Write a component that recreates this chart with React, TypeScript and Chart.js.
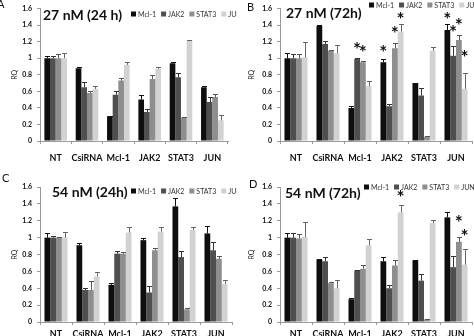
import React, { useEffect, useRef } from "react";
import { Chart, registerables } from "chart.js";
Chart.register(...registerables);

// ---------- data ----------
const categories = ["NT", "CsiRNA", "Mcl-1", "JAK2", "STAT3", "JUN"];
const seriesNames = ["Mcl-1", "JAK2", "STAT3", "JUN"];
const yMin = 0;
const yMax = 1.6;
const yStep = 0.2;
const yAxisTitle = "RQ";

// Panel A: 27 nM (24 h)
const titleA = "27 nM (24 h)";
const aMcl1 = [1.0, 0.88, 0.3, 0.5, 0.94, 0.65];
const aJak2 = [1.0, 0.65, 0.56, 0.35, 0.77, 0.47];
const aStat3 = [1.0, 0.58, 0.73, 0.75, 0.28, 0.53];
const aJun = [1.0, 0.63, 0.92, 0.87, 1.21, 0.25];
const aMcl1Err = [0.03, 0.01, 0.0, 0.05, 0.02, 0.01];
const aJak2Err = [0.03, 0.06, 0.04, 0.04, 0.05, 0.06];
const aStat3Err = [0.05, 0.02, 0.03, 0.05, 0.01, 0.04];
const aJunErr = [0.06, 0.03, 0.04, 0.02, 0.01, 0.06];
const aMcl1Star = [null, null, null, null, null, null];
const aJak2Star = [null, null, null, null, null, null];
const aStat3Star = [null, null, null, null, null, null];
const aJunStar = [null, null, null, null, null, null];

// Panel B: 27 nM (72h)
const titleB = "27 nM (72h)";
const bMcl1 = [1.0, 1.39, 0.4, 0.95, 0.7, 1.34];
const bJak2 = [1.0, 1.17, 0.99, 0.42, 0.55, 1.03];
const bStat3 = [1.0, 1.09, 0.95, 1.12, 0.05, 1.22];
const bJun = [1.01, 1.06, 0.66, 1.32, 1.09, 0.63];
const bMcl1Err = [0.06, 0.01, 0.02, 0.04, 0.0, 0.07];
const bJak2Err = [0.05, 0.04, 0.01, 0.03, 0.09, 0.12];
const bStat3Err = [0.05, 0.01, 0.02, 0.06, 0.01, 0.06];
const bJunErr = [0.18, 0.1, 0.07, 0.09, 0.05, 0.19];
const bMcl1Star = [null, null, null, 1.11, null, 1.51];
const bJak2Star = [null, null, 1.15, null, null, 1.36];
const bStat3Star = [null, null, 1.11, 1.34, null, 1.44];
const bJunStar = [null, null, null, 1.51, null, 1.05];

// Panel C: 54 nM (24h)
const titleC = "54 nM (24h)";
const cMcl1 = [1.0, 0.91, 0.44, 0.97, 1.37, 1.05];
const cJak2 = [1.0, 0.38, 0.81, 0.35, 0.77, 0.85];
const cStat3 = [1.0, 0.38, 0.81, 0.85, 0.15, 0.75];
const cJun = [1.0, 0.54, 1.06, 1.07, 1.09, 0.45];
const cMcl1Err = [0.05, 0.03, 0.02, 0.02, 0.1, 0.09];
const cJak2Err = [0.02, 0.02, 0.03, 0.08, 0.07, 0.1];
const cStat3Err = [0.01, 0.11, 0.02, 0.03, 0.02, 0.03];
const cJunErr = [0.07, 0.05, 0.07, 0.05, 0.03, 0.05];
const cMcl1Star = [null, null, null, null, null, null];
const cJak2Star = [null, null, null, null, null, null];
const cStat3Star = [null, null, null, null, null, null];
const cJunStar = [null, null, null, null, null, null];

// Panel D: 54 nM (72h)
const titleD = "54 nM (72h)";
const dMcl1 = [1.0, 0.74, 0.27, 0.72, 0.73, 1.24];
const dJak2 = [1.0, 0.72, 0.61, 0.4, 0.49, 0.65];
const dStat3 = [0.99, 0.46, 0.63, 0.67, 0.03, 0.95];
const dJun = [1.01, 0.4, 0.91, 1.3, 1.17, 0.68];
const dMcl1Err = [0.06, 0.01, 0.02, 0.05, 0.0, 0.06];
const dJak2Err = [0.05, 0.05, 0.01, 0.04, 0.08, 0.13];
const dStat3Err = [0.05, 0.02, 0.04, 0.07, 0.01, 0.06];
const dJunErr = [0.18, 0.1, 0.07, 0.09, 0.04, 0.19];
const dMcl1Star = [null, null, null, null, null, null];
const dJak2Star = [null, null, null, null, null, null];
const dStat3Star = [null, null, null, null, null, 1.22];
const dJunStar = [null, null, null, 1.52, null, 1.06];

// ---------- styles ----------
const barColors = ["#0e0e0e", "#4f4f4f", "#8e8e8e", "#d2d2d2"];
const errColors = ["#111111", "#333333", "#555555", "#666666"];
const FONT = "Lato, 'Open Sans', sans-serif";

type Layout = {
  left: number; top: number; right: number; bottom: number;
  titleX: number; titleY: number; legendX: number; legendY: number;
  letterX: number; letterY: number; labelPad: number;
};

type Panel = {
  letter: string; title: string;
  values: number[][]; errors: number[][]; stars: (number | null)[][];
  layout: Layout; x: number; y: number;
};

const W = 237;
const H = 168;

const panels: Panel[] = [
  {
    letter: "A", title: titleA,
    values: [aMcl1, aJak2, aStat3, aJun],
    errors: [aMcl1Err, aJak2Err, aStat3Err, aJunErr],
    stars: [aMcl1Star, aJak2Star, aStat3Star, aJunStar],
    layout: { left: 40, top: 5, right: 228, bottom: 141, titleX: 43, titleY: 15, legendX: 131, legendY: 14, letterX: -3, letterY: 4, labelPad: 9 },
    x: 0, y: 0,
  },
  {
    letter: "B", title: titleB,
    values: [bMcl1, bJak2, bStat3, bJun],
    errors: [bMcl1Err, bJak2Err, bStat3Err, bJunErr],
    stars: [bMcl1Star, bJak2Star, bStat3Star, bJunStar],
    layout: { left: 43, top: 4, right: 235, bottom: 141, titleX: 49, titleY: 13, legendX: 132, legendY: 5, letterX: 10, letterY: 7, labelPad: 9 },
    x: W, y: 0,
  },
  {
    letter: "C", title: titleC,
    values: [cMcl1, cJak2, cStat3, cJun],
    errors: [cMcl1Err, cJak2Err, cStat3Err, cJunErr],
    stars: [cMcl1Star, cJak2Star, cStat3Star, cJunStar],
    layout: { left: 40, top: 19, right: 232, bottom: 154, titleX: 52, titleY: 24, legendX: 131, legendY: 23, letterX: 2, letterY: 10, labelPad: 4 },
    x: 0, y: H,
  },
  {
    letter: "D", title: titleD,
    values: [dMcl1, dJak2, dStat3, dJun],
    errors: [dMcl1Err, dJak2Err, dStat3Err, dJunErr],
    stars: [dMcl1Star, dJak2Star, dStat3Star, dJunStar],
    layout: { left: 43, top: 19, right: 235, bottom: 154, titleX: 48, titleY: 25, legendX: 127, legendY: 19, letterX: 12, letterY: 16, labelPad: 4 },
    x: W, y: H,
  },
];

const overlayPlugin = {
  id: "overlay",
  afterDatasetsDraw(chart: any, _args: any, opts: any) {
    const p: Panel = opts.panel;
    const ctx = chart.ctx;
    const yScale = chart.scales.y;
    ctx.save();
    // error bars and significance stars
    p.values.forEach((vals, i) => {
      const meta = chart.getDatasetMeta(i);
      meta.data.forEach((el: any, j: number) => {
        const err = p.errors[i][j];
        const top = Math.round(yScale.getPixelForValue(vals[j] + err)) + 0.5;
        const x = Math.round(el.x) + 0.5;
        ctx.strokeStyle = errColors[i];
        ctx.lineWidth = 1;
        ctx.beginPath();
        ctx.moveTo(x, el.y);
        ctx.lineTo(x, top);
        ctx.moveTo(x - 2.5, top);
        ctx.lineTo(x + 2.5, top);
        ctx.stroke();
        const star = p.stars[i][j];
        if (star !== null && star !== undefined) {
          ctx.fillStyle = "#111";
          ctx.font = `bold 19px ${FONT}`;
          ctx.textAlign = "center";
          ctx.textBaseline = "middle";
          ctx.fillText("*", el.x, yScale.getPixelForValue(star) + 4);
        }
      });
    });
    // title
    const L = p.layout;
    ctx.fillStyle = "#111";
    ctx.font = `bold 14px ${FONT}`;
    ctx.textAlign = "left";
    ctx.textBaseline = "middle";
    ctx.fillText(p.title, L.titleX, L.titleY);
    // panel letter
    ctx.font = `11px ${FONT}`;
    ctx.fillText(p.letter, L.letterX, L.letterY);
    // legend
    ctx.font = `7px ${FONT}`;
    let lx = L.legendX;
    seriesNames.forEach((name, i) => {
      ctx.fillStyle = barColors[i];
      ctx.fillRect(lx, L.legendY - 2.5, 5, 5);
      ctx.fillStyle = "#333";
      ctx.fillText(name, lx + 7, L.legendY + 0.5);
      lx += 7 + ctx.measureText(name).width + 5;
    });
    ctx.restore();
  },
};

function PanelChart({ panel }: { panel: Panel }) {
  const ref = useRef<HTMLCanvasElement | null>(null);
  useEffect(() => {
    if (!ref.current) return;
    const L = panel.layout;
    const chart = new Chart(ref.current, {
      type: "bar",
      data: {
        labels: categories,
        datasets: panel.values.map((vals, i) => ({
          label: seriesNames[i],
          data: vals,
          backgroundColor: barColors[i],
          borderWidth: 0,
          categoryPercentage: 0.72,
          barPercentage: 1.0,
        })),
      },
      options: {
        responsive: false,
        animation: false,
        devicePixelRatio: 1,
        layout: { padding: { left: 0, top: L.top, right: W - L.right, bottom: 0 } },
        plugins: {
          legend: { display: false },
          tooltip: { enabled: false },
          title: { display: false },
          overlay: { panel },
        } as any,
        scales: {
          x: {
            grid: { display: true, drawOnChartArea: false, tickLength: 3, color: "#9a9a9a", offset: true },
            border: { color: "#9a9a9a" },
            ticks: { color: "#111", font: { family: FONT, size: 9, weight: "bold" }, padding: L.labelPad, maxRotation: 0, autoSkip: false },
            afterFit: (s: any) => { s.height = H - L.bottom; },
          },
          y: {
            min: yMin,
            max: yMax,
            grid: { display: true, drawOnChartArea: false, tickLength: 3, color: "#9a9a9a" },
            border: { color: "#9a9a9a" },
            ticks: {
              stepSize: yStep,
              color: "#111",
              font: { family: FONT, size: 7, weight: "bold", lineHeight: 1 },
              padding: 5,
              callback: (v: any) => String(parseFloat(Number(v).toFixed(1))),
            },
            title: { display: true, text: yAxisTitle, color: "#222", font: { family: FONT, size: 7 }, padding: { top: 11, bottom: 0 } },
            afterFit: (s: any) => { s.width = L.left; },
          },
        },
      } as any,
      plugins: [overlayPlugin],
    });
    return () => chart.destroy();
  }, [panel]);
  return (
    <canvas
      ref={ref}
      width={W}
      height={H}
      style={{ position: "absolute", left: panel.x, top: panel.y, width: W, height: H }}
    />
  );
}

export default function App() {
  return (
    <div style={{ position: "absolute", left: 0, top: 0, width: 474, height: 336, background: "#fff", overflow: "hidden" }}>
      {panels.map((p) => (
        <PanelChart key={p.letter} panel={p} />
      ))}
    </div>
  );
}
